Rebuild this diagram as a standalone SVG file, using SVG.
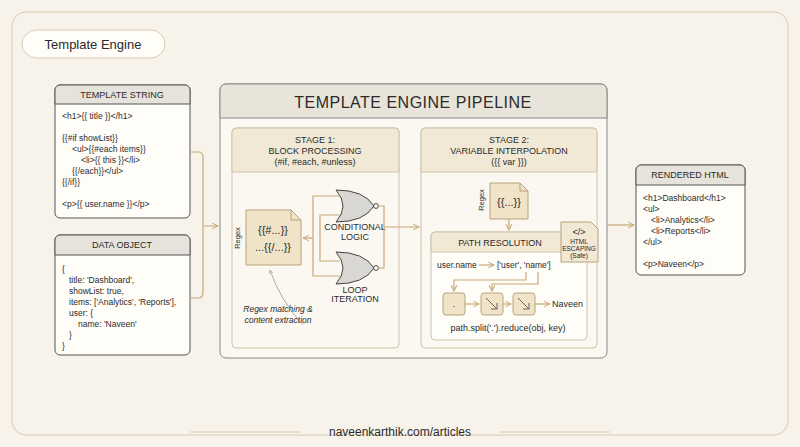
<svg xmlns="http://www.w3.org/2000/svg" width="800" height="447" viewBox="0 0 800 447">
<defs>
<marker id="ar" viewBox="0 0 10 10" refX="9" refY="5" markerWidth="6" markerHeight="6" orient="auto"><path d="M1 1L9 5L1 9" fill="none" stroke="#c9a878" stroke-width="1.5"/></marker>
<style>
text{font-family:"Liberation Sans",Arial,sans-serif;fill:#2b2b2b}
.box{fill:#fffdf8;stroke:#555;stroke-width:1}
.hd{fill:#e6e3dc;stroke:#555;stroke-width:1}
.t{font-size:9px;text-anchor:middle}
.c{font-size:8.5px}
.ln{fill:none;stroke:#c9a878;stroke-width:1.2}
.tan{fill:#efe3c8;stroke:#b9a27a;stroke-width:1}
.stg{fill:#fbf8f1;stroke:#cfc3a8;stroke-width:1}
.gate{fill:#d9d7d3;stroke:#444;stroke-width:1}
</style>
</defs>
<rect width="800" height="447" fill="#f7f3ea"/>
<rect x="12" y="12" width="776" height="423" rx="14" fill="none" stroke="#d8cbb0" stroke-width="1"/>
<rect x="22" y="30" width="143" height="28" rx="14" fill="#fffdf8" stroke="#d8cbb0"/>
<text x="93" y="49" font-size="13" text-anchor="middle">Template Engine</text>
<g id="template-string">
<rect class="box" x="55" y="85" width="135" height="133" rx="5"/>
<path class="hd" d="M55 104V90a5 5 0 0 1 5-5h125a5 5 0 0 1 5 5v14z"/>
<text class="t" x="122" y="98">TEMPLATE STRING</text>
<text class="c" x="62" y="119">&lt;h1&gt;{{ title }}&lt;/h1&gt;</text>
<text class="c" x="62" y="141">{{#if showList}}</text>
<text class="c" x="72" y="152">&lt;ul&gt;{{#each items}}</text>
<text class="c" x="81" y="163">&lt;li&gt;{{ this }}&lt;/li&gt;</text>
<text class="c" x="72" y="174">{{/each}}&lt;/ul&gt;</text>
<text class="c" x="62" y="185">{{/if}}</text>
<text class="c" x="62" y="207">&lt;p&gt;{{ user.name }}&lt;/p&gt;</text>
</g>
<g id="data-object">
<rect class="box" x="55" y="235" width="135" height="120" rx="5"/>
<path class="hd" d="M55 255V240a5 5 0 0 1 5-5h125a5 5 0 0 1 5 5v15z"/>
<text class="t" x="122" y="248">DATA OBJECT</text>
<text class="c" x="62" y="272">{</text>
<text class="c" x="69" y="283">title: 'Dashboard',</text>
<text class="c" x="69" y="294">showList: true,</text>
<text class="c" x="69" y="305">items: ['Analytics', 'Reports'],</text>
<text class="c" x="69" y="316">user: {</text>
<text class="c" x="78" y="327">name: 'Naveen'</text>
<text class="c" x="69" y="338">}</text>
<text class="c" x="62" y="349">}</text>
</g>
<g id="pipeline">
<rect x="220" y="84" width="387" height="274" rx="6" fill="#fbf8f1" stroke="#888"/>
<path d="M220 118V90a6 6 0 0 1 6-6h375a6 6 0 0 1 6 6v28z" fill="#e9e4d9" stroke="#888"/>
<text x="413" y="108" font-size="16" text-anchor="middle" font-family="Liberation Serif,serif" letter-spacing="0.5">TEMPLATE ENGINE PIPELINE</text>
</g>
<g id="stage1">
<rect class="stg" x="232" y="128" width="167" height="220" rx="4"/>
<path d="M232 172V132a4 4 0 0 1 4-4h159a4 4 0 0 1 4 4v40z" fill="#f1e8d5" stroke="#cfc3a8"/>
<text class="t" x="315" y="143">STAGE 1:</text>
<text class="t" x="315" y="154">BLOCK PROCESSING</text>
<text class="t" x="315" y="165">(#if, #each, #unless)</text>
<path class="tan" d="M246 210h45l10 10v45h-55z"/>
<path d="M291 210v10h10" fill="none" stroke="#b9a27a"/>
<text x="273" y="234" font-size="11" text-anchor="middle">{{#...}}</text>
<text x="273" y="251" font-size="11" text-anchor="middle">...{{/...}}</text>
<text x="240" y="238" font-size="7.5" text-anchor="middle" transform="rotate(-90 240 238)">Regex</text>
<path d="M303 325Q280 300 270 270" fill="none" stroke="#999" stroke-width="0.8" marker-end="url(#ar)"/>
<text x="278" y="312" font-size="8.5" font-style="italic" text-anchor="middle">Regex matching &amp;</text>
<text x="278" y="323" font-size="8.5" font-style="italic" text-anchor="middle">content extraction</text>
</g>
<g id="conditional-logic">
<path class="gate" d="M336 190Q350 206 336 222Q364 222 374 206Q364 190 336 190z"/>
<circle cx="376" cy="206" r="2.4" fill="#fff" stroke="#444"/>
<text class="t" x="355" y="230">CONDITIONAL</text>
<text class="t" x="355" y="240">LOGIC</text>
</g>
<g id="loop-iteration">
<path class="gate" d="M336 252Q350 268 336 284Q364 284 374 268Q364 252 336 252z"/>
<circle cx="376" cy="268" r="2.4" fill="#fff" stroke="#444"/>
<text class="t" x="355" y="293">LOOP</text>
<text class="t" x="355" y="302">ITERATION</text>
</g>
<g id="stage2">
<rect class="stg" x="421" y="128" width="176" height="220" rx="4"/>
<path d="M421 172V132a4 4 0 0 1 4-4h168a4 4 0 0 1 4 4v40z" fill="#f1e8d5" stroke="#cfc3a8"/>
<text class="t" x="509" y="143">STAGE 2:</text>
<text class="t" x="509" y="154">VARIABLE INTERPOLATION</text>
<text class="t" x="509" y="165">({{ var }})</text>
<path class="tan" d="M490 183h30l8 8v28h-38z"/>
<path d="M520 183v8h8" fill="none" stroke="#b9a27a"/>
<text x="509" y="206" font-size="11" text-anchor="middle">{{...}}</text>
<text x="484" y="200" font-size="7.5" text-anchor="middle" transform="rotate(-90 484 200)">Regex</text>
</g>
<g id="path-resolution">
<rect x="431" y="232" width="156" height="108" rx="4" fill="#fffdf8" stroke="#cfc3a8"/>
<path d="M431 252V236a4 4 0 0 1 4-4h148a4 4 0 0 1 4 4v16z" fill="#f1e8d5" stroke="#cfc3a8"/>
<text class="t" x="500" y="246">PATH RESOLUTION</text>
<text x="437" y="268" font-size="8.5">user.name</text>
<text x="497" y="268" font-size="8.5">['user', 'name']</text>
<rect class="tan" x="443" y="293" width="22" height="22" rx="3"/>
<rect class="tan" x="481" y="293" width="22" height="22" rx="3"/>
<rect class="tan" x="513" y="293" width="22" height="22" rx="3"/>
<text x="454" y="307" font-size="9" text-anchor="middle">.</text>
<path d="M486 298L497 309M497 303V309H491" fill="none" stroke="#555" stroke-width="0.9"/>
<path d="M518 298L529 309M529 303V309H523" fill="none" stroke="#555" stroke-width="0.9"/>
<text x="552" y="307" font-size="9">Naveen</text>
<text class="t" x="508" y="331">path.split('.').reduce(obj, key)</text>
</g>
<g id="html-escaping">
<path d="M561 222h30l7 7v33h-37z" fill="#f1e8d5" stroke="#b9a27a"/>
<text x="579" y="235" font-size="9" text-anchor="middle">&lt;/&gt;</text>
<text x="579" y="244" font-size="6.5" text-anchor="middle">HTML</text>
<text x="579" y="251" font-size="6.5" text-anchor="middle">ESCAPING</text>
<text x="579" y="258" font-size="6.5" text-anchor="middle">(Safe)</text>
</g>
<g id="rendered-html">
<rect class="box" x="636" y="165" width="109" height="110" rx="5"/>
<path class="hd" d="M636 185V170a5 5 0 0 1 5-5h99a5 5 0 0 1 5 5v15z"/>
<text class="t" x="690" y="178">RENDERED HTML</text>
<text class="c" x="643" y="201">&lt;h1&gt;Dashboard&lt;/h1&gt;</text>
<text class="c" x="643" y="212">&lt;ul&gt;</text>
<text class="c" x="651" y="223">&lt;li&gt;Analytics&lt;/li&gt;</text>
<text class="c" x="651" y="234">&lt;li&gt;Reports&lt;/li&gt;</text>
<text class="c" x="643" y="245">&lt;/ul&gt;</text>
<text class="c" x="643" y="267">&lt;p&gt;Naveen&lt;/p&gt;</text>
</g>
<g id="connectors">
<path class="ln" d="M190 152h8q5 0 5 5v136q0 5-5 5h-8M203 226h15" marker-end="url(#ar)"/>
<path class="ln" d="M340 196h-27v80h27"/>
<path class="ln" d="M340 215h-20v46h20"/>
<path class="ln" d="M313 238h-10" marker-end="url(#ar)"/>
<path class="ln" d="M378 206h6v62h-6M384 227h35" marker-end="url(#ar)"/>
<path class="ln" d="M509 219v11" marker-end="url(#ar)"/>
<path class="ln" d="M479 265h15" marker-end="url(#ar)"/>
<path class="ln" d="M526 272v8h-72v11" marker-end="url(#ar)"/>
<path class="ln" d="M538 272v12h-46v7" marker-end="url(#ar)"/>
<path class="ln" d="M465 304h14" marker-end="url(#ar)"/>
<path class="ln" d="M503 304h8" marker-end="url(#ar)"/>
<path class="ln" d="M535 304h15" marker-end="url(#ar)"/>
<path class="ln" d="M607 225h27" marker-end="url(#ar)"/>
</g>
<line x1="190" y1="432" x2="300" y2="432" stroke="#d8cbb0"/>
<line x1="500" y1="432" x2="610" y2="432" stroke="#d8cbb0"/>
<text x="400" y="436" font-size="12" text-anchor="middle" fill="#555">naveenkarthik.com/articles</text>
</svg>
